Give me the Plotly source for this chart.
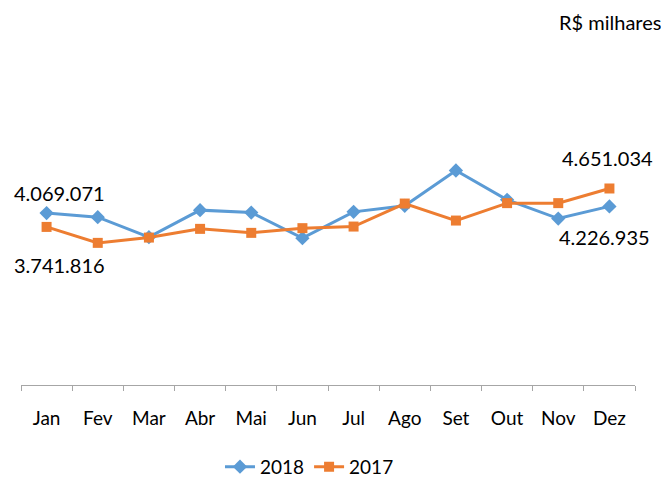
import plotly.graph_objects as go

months = ["Jan", "Fev", "Mar", "Abr", "Mai", "Jun", "Jul", "Ago", "Set", "Out", "Nov", "Dez"]
values_2018 = [4069071, 3972800, 3499000, 4138600, 4081800, 3475300, 4098400, 4240500, 5076800, 4382700, 3939700, 4226935]
values_2017 = [3741816, 3364000, 3489500, 3695600, 3600900, 3712200, 3750100, 4295000, 3892300, 4304500, 4304500, 4651034]

BLUE = "#5B9BD5"
ORANGE = "#ED7D31"
FONT = "Lato"

def fmt(v):
    return f"{v:,}".replace(",", ".")

fig = go.Figure()
fig.add_trace(go.Scatter(
    x=months, y=values_2018, name="2018", mode="lines+markers",
    line=dict(color=BLUE, width=3),
    marker=dict(symbol="diamond", size=11, color=BLUE),
    hoverinfo="skip",
))
fig.add_trace(go.Scatter(
    x=months, y=values_2017, name="2017", mode="lines+markers",
    line=dict(color=ORANGE, width=3),
    marker=dict(symbol="square", size=10, color=ORANGE),
    hoverinfo="skip",
))

# (x, y, xshift px, yshift px, yanchor) -- label placement relative to its point
labels = [
    (months[0], values_2018[0], 13, 6, "bottom"),
    (months[0], values_2017[0], 13, -24, "top"),
    (months[11], values_2017[11], -2, 16, "bottom"),
    (months[11], values_2018[11], -5, -17, "top"),
]
for x, y, dx, dy, ya in labels:
    fig.add_annotation(x=x, y=y, xref="x", yref="y", text=fmt(y), showarrow=False,
                       xanchor="center", yanchor=ya,
                       xshift=dx, yshift=dy,
                       font=dict(family=FONT, size=20, color="#000000"))

fig.add_annotation(xref="paper", yref="paper", x=1.0456, y=1.074,
                   xanchor="right", yanchor="middle", text="R$ milhares",
                   showarrow=False, font=dict(family=FONT, size=20, color="#000000"))

# page body has an 8px margin: figure is sized/offset to compensate
fig.update_layout(
    width=661, height=473,
    margin=dict(l=13, r=34, t=39, b=96, autoexpand=False),
    paper_bgcolor="white", plot_bgcolor="white",
    font=dict(family=FONT, size=19, color="#000000"),
    showlegend=True,
    legend=dict(orientation="h", xref="container", yref="container",
                x=0.4561, xanchor="center", y=0.03, yanchor="middle",
                font=dict(family=FONT, size=19, color="#000000"),
                itemwidth=30, tracegroupgap=0),
    xaxis=dict(type="category", range=[-0.5, 11.5], showgrid=False,
               showline=True, linecolor="#A6A6A6", linewidth=1,
               ticks="outside", tickson="boundaries", ticklen=5, tickcolor="#A6A6A6",
               ticklabelstandoff=16, zeroline=False, fixedrange=True, automargin=False),
    yaxis=dict(range=[0, 8000000], visible=False, showgrid=False, zeroline=False,
               fixedrange=True, automargin=False),
)

fig.write_html("out.html")
